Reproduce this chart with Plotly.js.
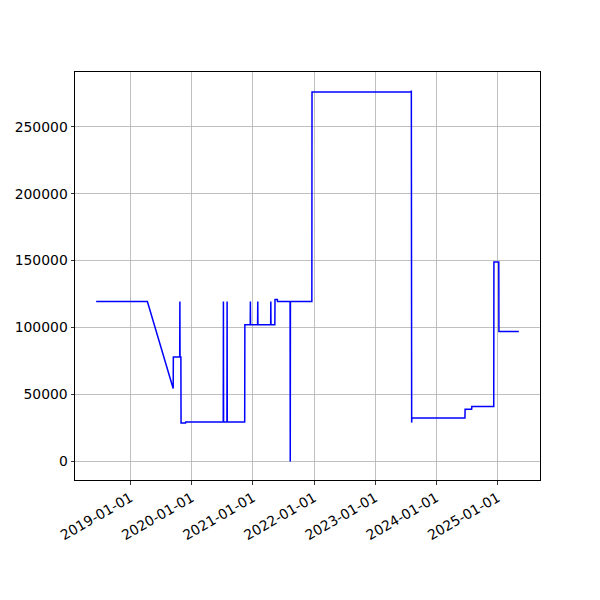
<!DOCTYPE html>
<html>
<head>
<meta charset="utf-8">
<script src="https://cdn.plot.ly/plotly-3.0.1.min.js"></script>
<style>html,body{margin:0;padding:0;background:#fff;}#chart{width:600px;height:600px;}</style>
</head>
<body>
<div id="chart"></div>
<script>
const dates = [
  "2018-06-10","2019-04-12","2019-09-13","2019-09-14","2019-10-22","2019-10-23","2019-10-24","2019-10-29","2019-10-30","2019-11-26",
  "2019-11-27","2020-07-08","2020-07-09","2020-07-10","2020-07-30","2020-07-31","2020-08-01","2020-11-13","2020-11-14","2020-12-16",
  "2020-12-17","2020-12-18","2021-01-29","2021-01-30","2021-01-31","2021-04-17","2021-04-18","2021-04-19","2021-05-12","2021-05-13",
  "2021-05-27","2021-05-28","2021-08-11","2021-08-12","2021-08-13","2021-12-19","2021-12-20","2023-08-04","2023-08-05","2023-08-07",
  "2023-08-08","2024-06-20","2024-06-21","2024-07-30","2024-07-31","2024-12-09","2024-12-10","2025-01-08","2025-01-09","2025-05-08"
];
const values = [
  119500,119500,54500,78000,78000,119500,78000,78000,28800,28800,
  29500,29500,119500,29500,29500,119500,29500,29500,102000,102000,
  119500,102000,102000,119500,102000,102000,119500,102000,102000,121000,
  121000,119500,119500,0,119500,119500,276000,276000,277000,29000,
  32500,32500,39000,39000,41000,41000,149000,149000,97000,97000
];
const tickDates = ["2019-01-01","2020-01-01","2021-01-01","2022-01-01","2023-01-01","2024-01-01","2025-01-01"];
const tickLabels = ["2019-01-01","2020-01-01","2021-01-01","2022-01-01","2023-01-01","2024-01-01","2025-01-01"];
const yTicks = [0,50000,100000,150000,200000,250000];
const yTickLabels = ["0","50000","100000","150000","200000","250000"];

const t = dates.map(d => new Date(d + "T00:00:00Z").getTime());
const tMin = Math.min(...t), tMax = Math.max(...t);
const tPad = (tMax - tMin) * 0.05;
const iso = ms => new Date(ms).toISOString().slice(0,19).replace("T"," ");
const vMin = Math.min(...values), vMax = Math.max(...values);
const vPad = (vMax - vMin) * 0.05;

const font = {family: "DejaVu Sans", size: 13.9, color: "#000"};
Plotly.newPlot("chart", [{
  x: dates, y: values, type: "scatter", mode: "lines",
  line: {color: "#0000ff", width: 1.5}, hoverinfo: "skip"
}], {
  width: 600, height: 600,
  margin: {l: 75, r: 60, t: 72, b: 120, pad: 0},
  paper_bgcolor: "#fff", plot_bgcolor: "#fff",
  showlegend: false, font: font,
  xaxis: {
    type: "date", range: [iso(tMin - tPad), iso(tMax + tPad)],
    tickmode: "array", tickvals: tickDates, ticktext: tickLabels, tickangle: -30,
    showgrid: true, gridcolor: "#b0b0b0", gridwidth: 0.8,
    showline: true, mirror: true, linecolor: "#000", linewidth: 1,
    ticks: "outside", ticklen: 3.5, tickwidth: 0.8, tickcolor: "#000",
    zeroline: false, tickfont: font
  },
  yaxis: {
    range: [vMin - vPad, vMax + vPad],
    tickmode: "array", tickvals: yTicks, ticktext: yTickLabels,
    showgrid: true, gridcolor: "#b0b0b0", gridwidth: 0.8,
    showline: true, mirror: true, linecolor: "#000", linewidth: 1,
    ticks: "outside", ticklen: 3.5, tickwidth: 0.8, tickcolor: "#000",
    zeroline: false, tickfont: font
  }
}, {staticPlot: true});
</script>
</body>
</html>
